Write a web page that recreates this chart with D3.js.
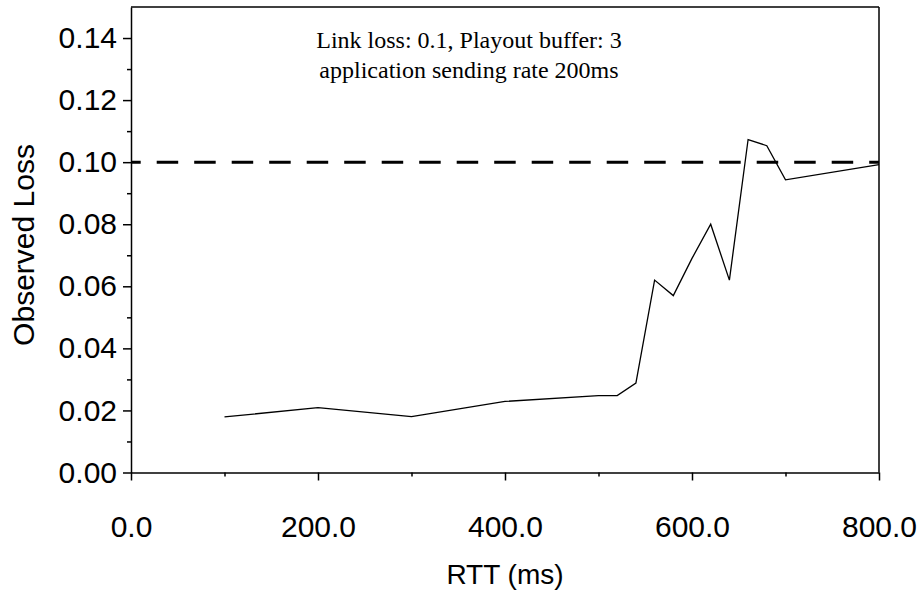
<!DOCTYPE html>
<html>
<head>
<meta charset="utf-8">
<script src="https://cdn.jsdelivr.net/npm/d3@7"></script>
<style>
  html, body { margin: 0; padding: 0; background: #ffffff; }
  #chart { width: 923px; height: 595px; }
  .axis text { font-family: "Liberation Sans", Arial, sans-serif; font-size: 30px; fill: #000000; }
  .axis path, .axis line { stroke: #000000; stroke-width: 1.5; }
</style>
</head>
<body>
<div id="chart"></div>
<script>
// data
const rtt = [100, 200, 300, 400, 500, 520, 540, 560, 580, 600, 620, 640, 660, 680, 700, 800];
const observedLoss = [0.0179, 0.0209, 0.018, 0.0229, 0.0248, 0.0248, 0.0288, 0.062, 0.057, 0.069, 0.080, 0.062, 0.1073, 0.1053, 0.0943, 0.0992];
const linkLoss = 0.1;
const xMajorTicks = [0, 200, 400, 600, 800];
const xMinorTicks = [100, 300, 500, 700];
const yMajorTicks = [0, 0.02, 0.04, 0.06, 0.08, 0.10, 0.12, 0.14];
const yMinorTicks = [0.01, 0.03, 0.05, 0.07, 0.09, 0.11, 0.13];
const titleLines = ['Link loss: 0.1, Playout buffer: 3', 'application sending rate 200ms'];

const margin = { top: 7, right: 44, bottom: 122.5, left: 131 };
const W = 923, H = 595;
const width = W - margin.left - margin.right;
const height = H - margin.top - margin.bottom;

const svg = d3.select('#chart')
  .append('svg')
  .attr('width', W)
  .attr('height', H)
  .append('g')
  .attr('transform', 'translate(' + margin.left + ',' + margin.top + ')');

const x = d3.scaleLinear().domain([0, 800]).range([0, width]);
const y = d3.scaleLinear().domain([0, 0.15]).range([height, 0]);

// frame top and right
svg.append('line')
  .attr('x1', 0).attr('x2', width)
  .attr('y1', 0).attr('y2', 0)
  .attr('stroke', '#000').attr('stroke-width', 1.5);
svg.append('line')
  .attr('x1', width).attr('x2', width)
  .attr('y1', 0).attr('y2', height)
  .attr('stroke', '#000').attr('stroke-width', 1.5);

// minor ticks
svg.append('g')
  .attr('class', 'axis')
  .attr('transform', 'translate(0,' + height + ')')
  .call(d3.axisBottom(x).tickValues(xMinorTicks).tickSize(4).tickFormat(''))
  .call(g => g.select('.domain').remove());
svg.append('g')
  .attr('class', 'axis')
  .call(d3.axisLeft(y).tickValues(yMinorTicks).tickSize(4).tickFormat(''))
  .call(g => g.select('.domain').remove());

// major axes
svg.append('g')
  .attr('class', 'axis')
  .attr('transform', 'translate(0,' + height + ')')
  .call(d3.axisBottom(x).tickValues(xMajorTicks).tickSize(8).tickSizeOuter(0).tickPadding(35).tickFormat(d3.format('.1f')));
svg.append('g')
  .attr('class', 'axis')
  .call(d3.axisLeft(y).tickValues(yMajorTicks).tickSize(8).tickSizeOuter(0).tickPadding(6).tickFormat(d3.format('.2f')));

// reference line at link loss
svg.append('line')
  .attr('x1', x(0)).attr('x2', x(800))
  .attr('y1', y(linkLoss)).attr('y2', y(linkLoss))
  .attr('stroke', '#000')
  .attr('stroke-width', 3)
  .attr('stroke-dasharray', '21.5,16')
  .attr('stroke-dashoffset', 11.8);

// observed loss line
const line = d3.line()
  .x((d, i) => x(rtt[i]))
  .y(d => y(d));
svg.append('path')
  .datum(observedLoss)
  .attr('d', line)
  .attr('fill', 'none')
  .attr('stroke', '#000')
  .attr('stroke-width', 1.3);

// title
const title = svg.append('text')
  .attr('x', 338)
  .attr('y', 41.3)
  .attr('text-anchor', 'middle')
  .style('font-family', '"Liberation Serif", "Times New Roman", serif')
  .style('font-size', '24px')
  .style('fill', '#000');
titleLines.forEach((t, i) => {
  title.append('tspan')
    .attr('x', 338)
    .attr('dy', i === 0 ? 0 : 30)
    .text(t);
});

// axis labels
svg.append('text')
  .attr('x', width / 2)
  .attr('y', 577)
  .attr('text-anchor', 'middle')
  .style('font-family', '"Liberation Sans", Arial, sans-serif')
  .style('font-size', '28px')
  .style('fill', '#000')
  .text('RTT (ms)');
svg.append('text')
  .attr('transform', 'rotate(-90)')
  .attr('x', -238)
  .attr('y', -97)
  .attr('text-anchor', 'middle')
  .style('font-family', '"Liberation Sans", Arial, sans-serif')
  .style('font-size', '30px')
  .style('fill', '#000')
  .text('Observed Loss');
</script>
</body>
</html>
